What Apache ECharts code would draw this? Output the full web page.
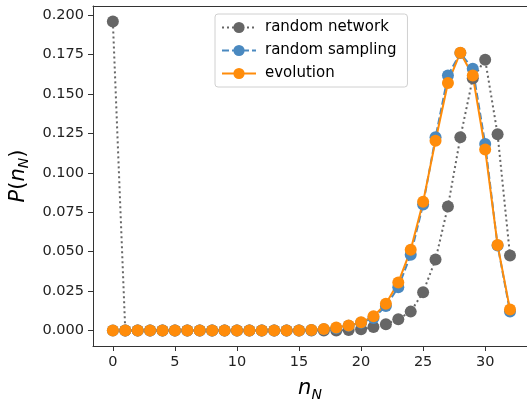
<!DOCTYPE html>
<html>
<head>
<meta charset="utf-8">
<script src="https://cdn.jsdelivr.net/npm/echarts@6/dist/echarts.min.js"></script>
<style>
    html, body { margin: 0; padding: 0; background: #fff; }
    #chart { width: 527px; height: 407px; }
</style>
</head>
<body>
<div id="chart"></div>
<script>
const FONT = 'DejaVu Sans';

// n_N = 0 .. 32
const nN = [];
for (let i = 0; i <= 32; i++) nN.push(i);

const randomNetwork = [0.196, 0, 0, 0, 0, 0, 0, 0, 0, 0, 0, 0, 0, 0, 0, 0, 0, 0, 0.0001,
    0.0003, 0.0008, 0.0022, 0.004, 0.0072, 0.012, 0.0243, 0.045, 0.0787, 0.1225, 0.16, 0.1717, 0.1245, 0.0476];
const randomSampling = [0, 0, 0, 0, 0, 0, 0, 0, 0, 0, 0, 0, 0, 0, 0, 0, 0.0003, 0.0008, 0.0015,
    0.003, 0.005, 0.008, 0.0155, 0.0275, 0.048, 0.080, 0.1225, 0.1617, 0.176, 0.166, 0.1183, 0.054, 0.012];
const evolution = [0, 0, 0, 0, 0, 0, 0, 0, 0, 0, 0, 0, 0, 0, 0, 0, 0.0004, 0.001, 0.002,
    0.0032, 0.0052, 0.009, 0.017, 0.0305, 0.0512, 0.0816, 0.1204, 0.157, 0.1762, 0.1617, 0.1148, 0.0543, 0.0133];

const xTicks = [0, 5, 10, 15, 20, 25, 30];
const yTicks = [0, 0.025, 0.05, 0.075, 0.1, 0.125, 0.15, 0.175, 0.2];

function pairs(arr) {
    return nN.map(function (n, i) { return [n, arr[i]]; });
}

const mathRich = {
    i: {fontFamily: FONT, fontStyle: 'italic', fontSize: 21, lineHeight: 26, color: '#000'},
    p: {fontFamily: FONT, fontSize: 21, lineHeight: 26, color: '#000'},
    sub: {fontFamily: FONT, fontStyle: 'italic', fontSize: 14, lineHeight: 14, color: '#000', verticalAlign: 'bottom'}
};

let myChart = echarts.init(document.getElementById('chart'), null, {renderer: 'canvas'});

// right spine sits just outside the picture, so the x range runs past the canvas edge
let option = {
    animation: false,
    backgroundColor: '#fff',
    textStyle: {fontFamily: FONT},
    grid: {left: 93, top: 6, bottom: 54, right: 0},
    legend: {
        left: 215, top: 14,
        orient: 'vertical',
        padding: [6, 11, 6, 6],
        itemWidth: 34, itemHeight: 14, itemGap: 8,
        backgroundColor: 'rgba(255,255,255,0.85)',
        borderColor: '#d0d0d0', borderWidth: 1, borderRadius: 3,
        textStyle: {fontFamily: FONT, fontSize: 15, color: '#000', padding: [0, 0, 0, 4]},
        data: ['random network', 'random sampling', 'evolution']
    },
    xAxis: [
        {
            type: 'value',
            min: -1.6, max: 33.37,
            name: '{i|n}{sub|N}',
            nameLocation: 'middle',
            nameGap: 30,
            nameTextStyle: {rich: mathRich},
            splitLine: {show: false},
            axisLine: {show: true, onZero: false, lineStyle: {color: '#333', width: 1}},
            axisTick: {show: true, length: 5, lineStyle: {color: '#333'}, customValues: xTicks},
            axisLabel: {fontFamily: FONT, fontSize: 14.5, color: '#222', margin: 9, customValues: xTicks}
        },
        {
            type: 'value',
            position: 'top',
            min: -1.6, max: 33.37,
            splitLine: {show: false},
            axisLine: {show: true, onZero: false, lineStyle: {color: '#333', width: 1}},
            axisTick: {show: false},
            axisLabel: {show: false}
        }
    ],
    yAxis: {
        type: 'value',
        min: -0.0098, max: 0.2058,
        name: '{i|P}{p|(}{i|n}{sub|N}{p|)}',
        nameLocation: 'middle',
        nameGap: 58,
        nameRotate: 90,
        nameTextStyle: {rich: mathRich},
        splitLine: {show: false},
        axisLine: {show: true, onZero: false, lineStyle: {color: '#333', width: 1}},
        axisTick: {show: true, length: 5, lineStyle: {color: '#333'}, customValues: yTicks},
        axisLabel: {
            fontFamily: FONT, fontSize: 14.5, color: '#222', margin: 9, customValues: yTicks,
            formatter: function (v) { return v.toFixed(3); }
        }
    },
    series: [
        {
            name: 'random network',
            type: 'line',
            data: pairs(randomNetwork),
            symbol: 'circle', symbolSize: 12,
            color: '#666666',
            itemStyle: {color: '#666666'},
            lineStyle: {color: '#666666', width: 2, type: [2, 3]}
        },
        {
            name: 'random sampling',
            type: 'line',
            data: pairs(randomSampling),
            symbol: 'circle', symbolSize: 12,
            color: '#4a89c0',
            itemStyle: {color: '#4a89c0'},
            lineStyle: {color: '#4a89c0', width: 2, type: [7, 3]}
        },
        {
            name: 'evolution',
            type: 'line',
            data: pairs(evolution),
            symbol: 'circle', symbolSize: 12,
            color: '#ff8c0a',
            itemStyle: {color: '#ff8c0a'},
            lineStyle: {color: '#ff8c0a', width: 2}
        }
    ]
};

if (option && typeof option === "object") {
    myChart.setOption(option, true);
}
</script>
</body>
</html>
